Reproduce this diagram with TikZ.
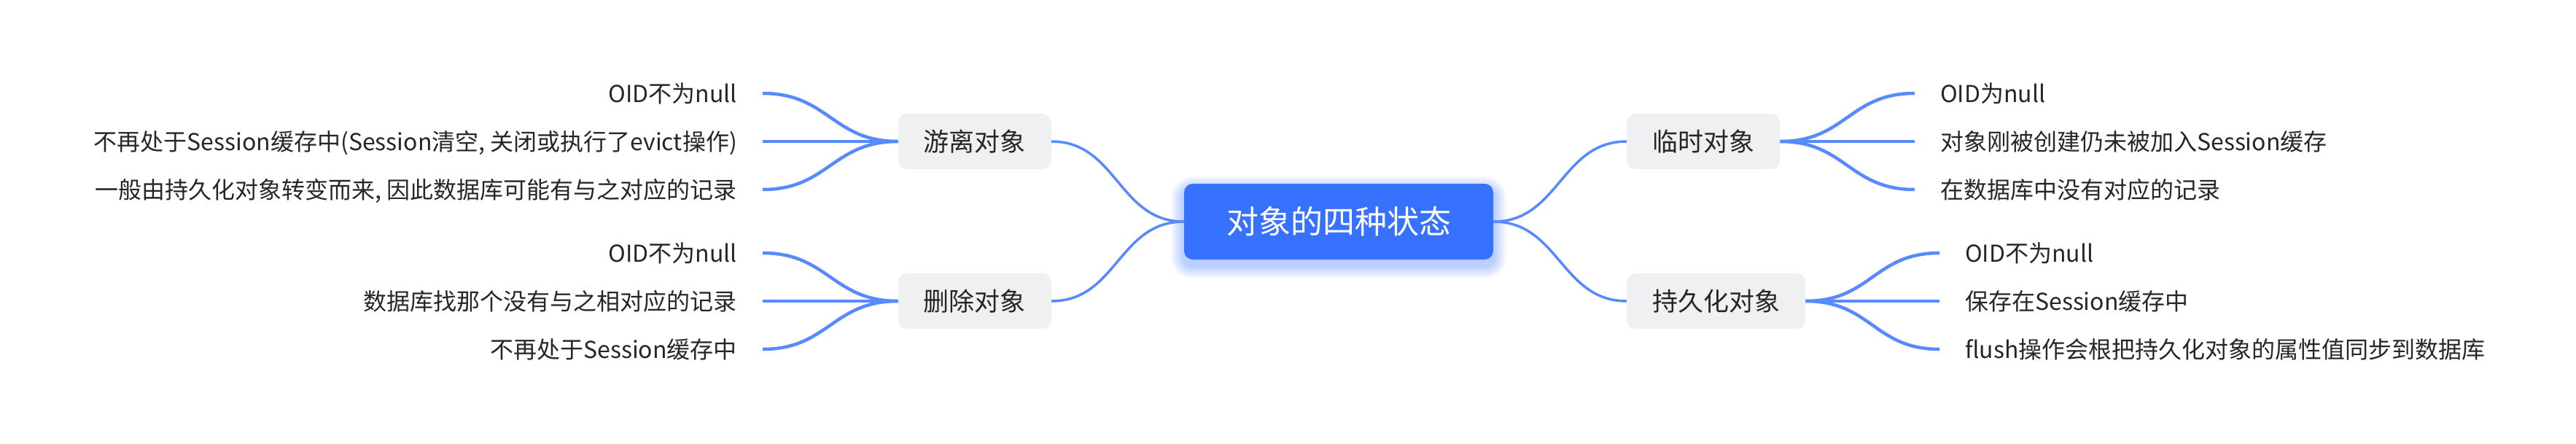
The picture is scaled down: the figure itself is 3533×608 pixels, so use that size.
\documentclass[tikz,border=0pt]{standalone}
\usepackage{fontspec}
\setmainfont{Noto Sans CJK SC}
\usetikzlibrary{calc,backgrounds}
\definecolor{rootblue}{HTML}{3772FF}
\definecolor{linkblue}{HTML}{588AFF}
\definecolor{boxgray}{HTML}{EFF0F2}
\definecolor{txt}{HTML}{262626}
\tikzset{
  rootnode/.style={fill=rootblue, text=white, rounded corners=12pt,
    font=\fontsize{44}{50}\selectfont, minimum height=104pt, inner xsep=58pt, inner ysep=0pt,
    text height=37.5pt, text depth=4.5pt},
  branch/.style={fill=boxgray, text=txt, rounded corners=12pt,
    font=\fontsize{35}{40}\selectfont, minimum height=76pt, inner xsep=35pt, inner ysep=0pt,
    text height=30pt, text depth=3.5pt},
  leaf/.style={text=txt, font=\fontsize{32}{38}\selectfont, inner xsep=35pt, inner ysep=2pt,
    text height=27pt, text depth=3pt},
  trunk/.style={draw=linkblue, line width=3.5pt},
  twig/.style={draw=linkblue, line width=4.5pt},
}
\begin{document}
\begin{tikzpicture}[x=1pt,y=-1pt]
\useasboundingbox (0,0) rectangle (3533,608);
% main nodes
\node[rootnode] (root) at (1836,304) {对象的四种状态};
\node[branch, anchor=east] (youli) at (1442,194) {游离对象};
\node[branch, anchor=east] (shanchu) at (1442,413) {删除对象};
\node[branch, anchor=west] (linshi) at (2231,194) {临时对象};
\node[branch, anchor=west] (chijiu) at (2231,413) {持久化对象};
% leaves
\node[leaf, anchor=east] (y1) at (1046,128) {OID不为null};
\node[leaf, anchor=east] (y2) at (1046,194) {不再处于Session缓存中(Session清空, 关闭或执行了evict操作)};
\node[leaf, anchor=east] (y3) at (1046,260) {一般由持久化对象转变而来, 因此数据库可能有与之对应的记录};
\node[leaf, anchor=east] (s1) at (1046,347) {OID不为null};
\node[leaf, anchor=east] (s2) at (1046,413) {数据库找那个没有与之相对应的记录};
\node[leaf, anchor=east] (s3) at (1046,479) {不再处于Session缓存中};
\node[leaf, anchor=west] (l1) at (2626,128) {OID为null};
\node[leaf, anchor=west] (l2) at (2626,194) {对象刚被创建仍未被加入Session缓存};
\node[leaf, anchor=west] (l3) at (2626,260) {在数据库中没有对应的记录};
\node[leaf, anchor=west] (c1) at (2660,347) {OID不为null};
\node[leaf, anchor=west] (c2) at (2660,413) {保存在Session缓存中};
\node[leaf, anchor=west] (c3) at (2660,479) {flush操作会根把持久化对象的属性值同步到数据库};
\begin{scope}[on background layer]
  \foreach \i in {1,...,18}
    \fill[rootblue, opacity=0.024, rounded corners={12+\i}]
      ($(root.south west)+(-\i,{\i+8})$) rectangle ($(root.north east)+(\i,{8-\i})$);
  % trunk connectors
  \draw[trunk] (root.west) .. controls +(-90,0) and +(90,0) .. (youli.east);
  \draw[trunk] (root.west) .. controls +(-90,0) and +(90,0) .. (shanchu.east);
  \draw[trunk] (root.east) .. controls +(90,0) and +(-90,0) .. (linshi.west);
  \draw[trunk] (root.east) .. controls +(90,0) and +(-90,0) .. (chijiu.west);
  % twig connectors
  \foreach \b/\l in {youli/y1,youli/y2,youli/y3,shanchu/s1,shanchu/s2,shanchu/s3}
    \draw[twig] (\b.west) .. controls +(-90,0) and +(90,0) .. (\l.east);
  \foreach \b/\l in {linshi/l1,linshi/l2,linshi/l3,chijiu/c1,chijiu/c2,chijiu/c3}
    \draw[twig] (\b.east) .. controls +(90,0) and +(-90,0) .. (\l.west);
\end{scope}
\end{tikzpicture}
\end{document}
